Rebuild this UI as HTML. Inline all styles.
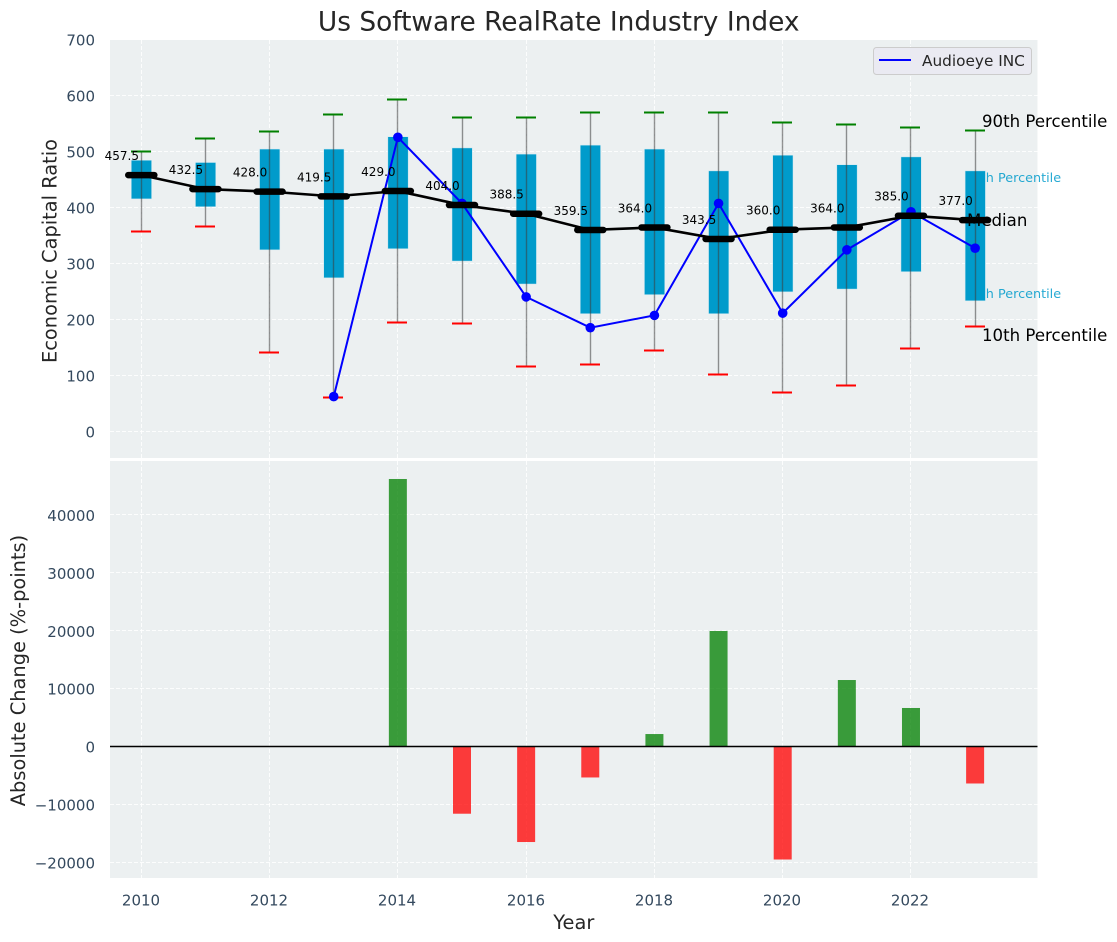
<!DOCTYPE html>
<html lang="en">
<head>
<meta charset="utf-8">
<title>Us Software RealRate Industry Index</title>
<style>
  html, body { margin: 0; padding: 0; background: #ffffff; }
  svg { display: block; font-family: "DejaVu Sans", "Liberation Sans", sans-serif; }
</style>
</head>
<body>
<svg id="chart" xmlns="http://www.w3.org/2000/svg" width="1117" height="942" viewBox="0 0 1117 942">
  <rect x="0" y="0" width="1117" height="942" fill="#ffffff"/>
  <text x="558.7" y="30.5" text-anchor="middle" font-size="26.4" fill="#262626">Us Software RealRate Industry Index</text>
  <rect x="110" y="40" width="927.5" height="418" fill="#ecf0f1"/>
  <rect x="110" y="461" width="927.5" height="417" fill="#ecf0f1"/>
  <g id="top-grid"></g>
  <g id="bottom-grid"></g>
  <text x="964.5" y="182" font-size="12.8" fill="#009bcb" fill-opacity="0.85">75th Percentile</text>
  <text x="964.5" y="298" font-size="12.8" fill="#009bcb" fill-opacity="0.85">25th Percentile</text>
  <g id="boxes"></g>
  <text x="967" y="226" font-size="16.6" fill="#000000">Median</text>
  <g id="company"></g>
  <g id="medians"></g>
  <g id="median-values"></g>
  <text x="982" y="127" font-size="16.6" fill="#000000">90th Percentile</text>
  <text x="982" y="341" font-size="16.6" fill="#000000">10th Percentile</text>
  <g id="bars"></g>
  <line id="zero-line" x1="110" x2="1037.5" y1="746.5" y2="746.5" stroke="#000000" stroke-width="1.4"/>
  <g id="y-ticks"></g>
  <g id="x-ticks"></g>
  <text transform="translate(56.5,251) rotate(-90)" text-anchor="middle" font-size="19.4" fill="#262626">Economic Capital Ratio</text>
  <text transform="translate(25,670.5) rotate(-90)" text-anchor="middle" font-size="19.4" fill="#262626">Absolute Change (%-points)</text>
  <text x="573.8" y="929" text-anchor="middle" font-size="19.4" fill="#262626">Year</text>
  <g>
    <rect x="873.5" y="47.5" width="158" height="27" rx="3" fill="#eaeaf2" stroke="#cccccc" stroke-width="1"/>
    <line x1="879" x2="911" y1="60" y2="60" stroke="#0000ff" stroke-width="2"/>
    <text x="922" y="66" font-size="15.3" fill="#262626">Audioeye INC</text>
  </g>
</svg>
<script>
const years = [2010,2011,2012,2013,2014,2015,2016,2017,2018,2019,2020,2021,2022,2023];
const p90 = [500,522,536,565,592,560,560,570,570,569,551,547,542,537];
const p75 = [484,480,504,504,526,506,495,511,504,465,493,476,490,465];
const p50 = [457.5,432.5,428,419.5,429,404,388.5,359.5,364,343.5,360,364,385,377];
const p25 = [415,401,324,274,326,304,263,210,244,210,249,254,285,233];
const p10 = [356,365,140,61,195,192,115,119,144,101,69,82,147,188];
const company = [null,null,null,62,525,407,240,185,207,407,211,324,392,327];
const changes = [null,null,null,null,46150,-11660,-16550,-5400,2100,19900,-19570,11430,6600,-6440];
const topTicks = [0,100,200,300,400,500,600,700];
const bottomTicks = [-20000,-10000,0,10000,20000,30000,40000];
const xTicks = [2010,2012,2014,2016,2018,2020,2022];

const NS = 'http://www.w3.org/2000/svg';
const xScale = y => 141.3 + (y - 2010) * 64.14;
const xSnap = y => Math.floor(xScale(y)) + 0.5;
const yTop = v => 431.3 - v * 0.56;
const yBottom = v => 746.2 - v * 0.00579;
const ySnap = y => Math.floor(y) + 0.5;

function mk(parentId, tag, attrs, text) {
  const node = document.createElementNS(NS, tag);
  for (const k in attrs) node.setAttribute(k, attrs[k]);
  if (text !== undefined) node.textContent = text;
  document.getElementById(parentId).appendChild(node);
  return node;
}
const gridStyle = { stroke: '#ffffff', 'stroke-width': 1, 'stroke-dasharray': '4 2', 'stroke-opacity': 0.85 };

topTicks.forEach(t => {
  const y = ySnap(yTop(t));
  const g = mk('top-grid', 'line', { x1: 110, x2: 1037.5, y1: y, y2: y, ...gridStyle });
  
  
  const l = mk('y-ticks', 'text', { x: 95, y: yTop(t) + 6.4, 'text-anchor': 'end', 'font-size': 15, fill: '#34495e' }, String(t));
  
  
});
bottomTicks.forEach(t => {
  const y = ySnap(yBottom(t));
  const g = mk('bottom-grid', 'line', { x1: 110, x2: 1037.5, y1: y, y2: y, ...gridStyle });
  
  
  const label = t < 0 ? '\u2212' + Math.abs(t) : String(t);
  const l = mk('y-ticks', 'text', { x: 95, y: yBottom(t) + 6.4, 'text-anchor': 'end', 'font-size': 15, fill: '#34495e' }, label);
  
  
});
xTicks.forEach(t => {
  const x = xSnap(t);
  const g1 = mk('top-grid', 'line', { x1: x, x2: x, y1: 40, y2: 458, ...gridStyle });
  
  
  const g2 = mk('bottom-grid', 'line', { x1: x, x2: x, y1: 461, y2: 878, ...gridStyle });
  
  
  const l = mk('x-ticks', 'text', { x: x - 0.5, y: 905.5, 'text-anchor': 'middle', 'font-size': 15, fill: '#34495e' }, String(t));
  
  
});

years.forEach((yr, i) => {
  const x = xScale(yr);
  const sx = xSnap(yr);
  const box = mk('boxes', 'rect', { x: x - 10, y: yTop(p75[i]), width: 20.3, height: yTop(p25[i]) - yTop(p75[i]), fill: '#009bcb', stroke: '#cfe8f1', 'stroke-width': 0.5 });
  
  
  const wh = mk('boxes', 'line', { x1: sx, x2: sx, y1: yTop(p90[i]), y2: yTop(p10[i]), stroke: '#3c3c3c', 'stroke-opacity': 0.55, 'stroke-width': 1.4 });
  
  
  const hi = mk('boxes', 'line', { x1: sx - 10.5, x2: sx + 9.5, y1: ySnap(yTop(p90[i])), y2: ySnap(yTop(p90[i])), stroke: '#008000', 'stroke-width': 2 });
  
  
  const lo = mk('boxes', 'line', { x1: sx - 10.5, x2: sx + 9.5, y1: ySnap(yTop(p10[i])), y2: ySnap(yTop(p10[i])), stroke: '#ff0000', 'stroke-width': 2 });
  
  
});

const companyPts = years.map((yr, i) => company[i] === null ? null : xScale(yr) + ',' + yTop(company[i])).filter(Boolean);
const companyLine = mk('company', 'polyline', { points: companyPts.join(' '), fill: 'none', stroke: '#0000ff', 'stroke-width': 2 });


years.forEach((yr, i) => {
  if (company[i] === null) return;
  const c = mk('company', 'circle', { cx: xScale(yr), cy: yTop(company[i]), r: 4.8, fill: '#0000ff' });
  
  
});

const medianLine = mk('medians', 'polyline', { points: years.map((yr, i) => xScale(yr) + ',' + yTop(p50[i])).join(' '), fill: 'none', stroke: '#000000', 'stroke-width': 2.6 });


years.forEach((yr, i) => {
  const x = xScale(yr), y = yTop(p50[i]);
  const m = mk('medians', 'line', { x1: x - 13, x2: x + 13, y1: y, y2: y, stroke: '#000000', 'stroke-width': 6.5, 'stroke-linecap': 'round' });
  
  
  const t = mk('median-values', 'text', { x: x - 19.5, y: y - 15, 'text-anchor': 'middle', 'font-size': 12, fill: '#000000' }, p50[i].toFixed(1));
  
  
});

years.forEach((yr, i) => {
  if (changes[i] === null) return;
  const v = changes[i];
  const y0 = yBottom(Math.max(v, 0)), y1 = yBottom(Math.min(v, 0));
  const b = mk('bars', 'rect', { x: xScale(yr) - 9, y: y0, width: 18, height: y1 - y0, fill: v >= 0 ? '#008000' : '#ff0000', 'fill-opacity': 0.76 });
  
  
});
</script>
</body>
</html>
